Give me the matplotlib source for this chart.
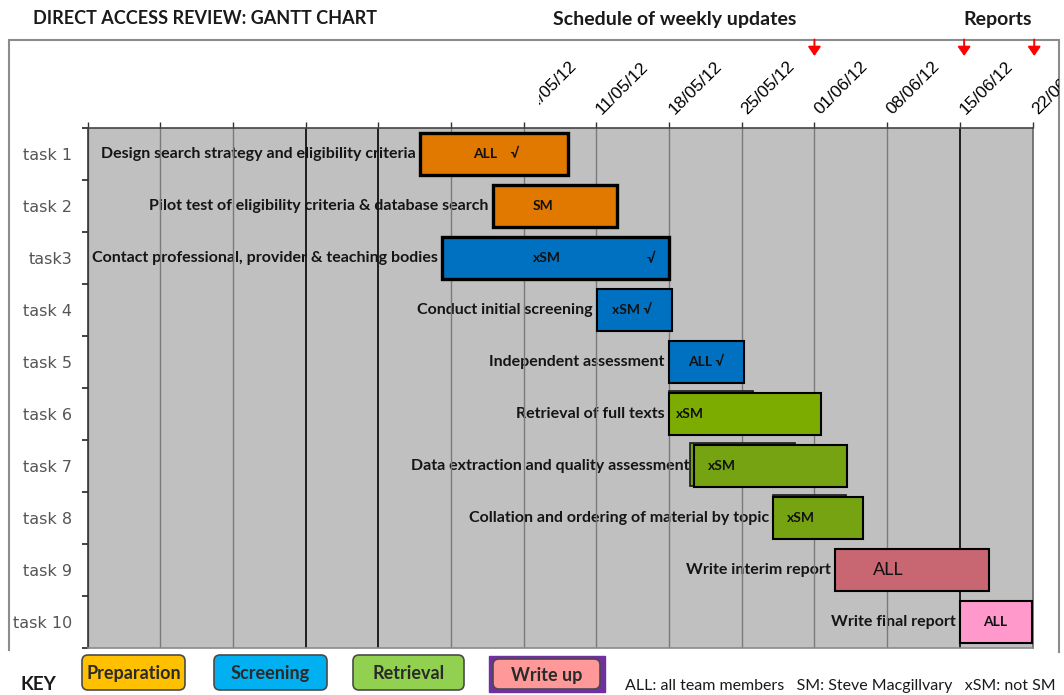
import matplotlib
matplotlib.use("Agg")
import matplotlib.pyplot as plt
import matplotlib.dates as mdates
import matplotlib.transforms as mtransforms
from matplotlib.patches import FancyBboxPatch, Rectangle
import pandas as pd

# ---------------- data ----------------
title = "DIRECT ACCESS REVIEW: GANTT CHART"
header_updates = "Schedule of weekly updates"
header_reports = "Reports"

tasks = ["task 1", "task 2", "task3", "task 4", "task 5",
         "task 6", "task 7", "task 8", "task 9", "task 10"]
descriptions = [
    "Design search strategy and eligibility criteria",
    "Pilot test of eligibility criteria & database search",
    "Contact professional, provider & teaching bodies",
    "Conduct initial screening",
    "Independent assessment",
    "Retrieval of full texts",
    "Data extraction and quality assessment",
    "Collation and ordering of material by topic",
    "Write interim report",
    "Write final report",
]
starts = ["2012-04-24 00:00", "2012-05-01 00:00", "2012-04-26 03:00",
          "2012-05-11 02:00", "2012-05-18 00:00", "2012-05-18 00:00",
          "2012-05-20 09:00", "2012-05-28 00:00", "2012-06-03 00:00",
          "2012-06-15 00:00"]
durations = [14.3, 12.0, 21.9, 7.2, 7.2, 14.6, 14.8, 8.7, 14.8, 7.0]
phases = ["Preparation", "Preparation", "Screening", "Screening", "Screening",
          "Retrieval", "Retrieval", "Retrieval", "Write up", "Write up"]
bar_colors = ["#E17800", "#E17800", "#0070C0", "#0070C0", "#0070C0",
              "#7DAC00", "#76A312", "#76A312", "#C86672", "#FF99CC"]
who = ["ALL    \u221a", "SM", "xSM", "xSM \u221a", "ALL \u221a",
       "xSM", "xSM", "xSM", "ALL", "ALL"]

# earlier (superseded) bars visible behind some tasks
ghost_rows = [5, 6, 7]
ghost_starts = ["2012-05-18 00:00", "2012-05-20 00:00", "2012-05-28 00:00"]
ghost_durations = [8.1, 10.1, 7.0]

axis_start = "2012-03-23"
axis_end = "2012-06-22"
week_dates = pd.date_range(axis_start, axis_end, freq="7D")
labelled_from = "2012-05-04"
dark_weeks = ["2012-04-13", "2012-04-20", "2012-06-15"]
arrow_dates = ["2012-06-01 00:00", "2012-06-15 10:00", "2012-06-22 04:00"]

key_labels = ["Preparation", "Screening", "Retrieval", "Write up"]
key_colors = ["#FFC000", "#00B0F0", "#92D050", "#FF9999"]
key_note = "ALL: all team members   SM: Steve Macgillvary   xSM: not SM"

# ---------------- style / layout ----------------
W, H = 1064, 695
DPI = 100
CAL = ["Lato", "DejaVu Sans"]
edge_widths = [2.4, 2.4, 2.4, 1.5, 1.5, 1.5, 1.5, 1.5, 1.5, 1.5]
# in-bar label offsets (pixels from bar start), font sizes
who_offsets = [53, 40, 91, 15, 19, 7, 14, 14, 38, 23]
who_sizes = [10, 10, 10, 10, 10, 10, 10, 10, 13, 10]

fig = plt.figure(figsize=(W / DPI, H / DPI), dpi=DPI)
fig.patch.set_facecolor("white")

# pixel overlay for frame, headers and key
ov = fig.add_axes([0, 0, 1, 1], zorder=0)
ov.set_xlim(0, W)
ov.set_ylim(H, 0)
ov.axis("off")

L, R, T, B = 87.5, 1032.5, 128, 648
ax = fig.add_axes([L / W, 1 - B / H, (R - L) / W, (B - T) / H], zorder=2)
ax.set_facecolor("#C0C0C0")

x0 = mdates.date2num(pd.Timestamp(axis_start))
x1 = mdates.date2num(pd.Timestamp(axis_end))
ax.set_xlim(x0, x1)
ax.set_ylim(len(tasks), 0)

# gridlines
dark_set = set(pd.to_datetime(dark_weeks))
for d in week_dates:
    dark = d in dark_set
    ax.axvline(mdates.date2num(d), color="#111111" if dark else "#7A7A7A",
               lw=1.3 if dark else 1.0, zorder=2)

# ticks
ax.xaxis.tick_top()
ax.set_xticks([mdates.date2num(d) for d in week_dates])
ax.tick_params(axis="x", which="major", length=4.5, width=1.0, color="#333333",
               labelsize=0, labeltop=False, labelbottom=False)
ax.set_yticks(range(len(tasks) + 1))
ax.set_yticklabels([])
ax.set_yticks([i + 0.5 for i in range(len(tasks))], minor=True)
ax.set_yticklabels(tasks, minor=True, fontsize=11.5, color="#555555",
                   family="DejaVu Sans")
ax.tick_params(axis="y", which="major", length=4, width=1.2, color="#222222")
ax.tick_params(axis="y", which="minor", length=0, pad=11)
for side, col, lw in [("top", "#444444", 1.2), ("left", "#333333", 1.2),
                      ("bottom", "#8A8A8A", 1.2), ("right", "#666666", 1.2)]:
    ax.spines[side].set_color(col)
    ax.spines[side].set_linewidth(lw)

# ghost bars (slightly higher, behind)
for r, s, dur in zip(ghost_rows, ghost_starts, ghost_durations):
    ax.barh(r + 0.5 - 0.03, dur, left=mdates.date2num(pd.Timestamp(s)),
            height=0.82, color=bar_colors[r], edgecolor="#1a1a1a",
            linewidth=1.2, zorder=2.5)

start_nums = [mdates.date2num(pd.Timestamp(s)) for s in starts]
ycent = [i + 0.5 for i in range(len(tasks))]
ax.barh(ycent, durations, left=start_nums, height=0.82, color=bar_colors,
        edgecolor="black", linewidth=edge_widths, zorder=3)

# descriptions left of bars
for y, s, txt in zip(ycent, start_nums, descriptions):
    ax.annotate(txt, xy=(s, y), xytext=(-3, 0), textcoords="offset points",
                ha="right", va="center", fontsize=11.5, fontweight="bold",
                family=CAL, color="#151515", zorder=1.5, annotation_clip=False)

# labels inside bars
for i, (y, s, txt) in enumerate(zip(ycent, start_nums, who)):
    ax.annotate(txt, xy=(s, y), xytext=(who_offsets[i] * 0.72, 0),
                textcoords="offset points", ha="left", va="center",
                fontsize=who_sizes[i],
                fontweight="bold" if who_sizes[i] < 12 else "normal",
                family=CAL, color="#111111", zorder=5)
# tick mark at the end of task 3
ax.annotate("\u221a", xy=(start_nums[2] + durations[2], ycent[2]),
            xytext=(-23 * 0.72, 0), textcoords="offset points", ha="left",
            va="center", fontsize=10, fontweight="bold", family=CAL,
            color="#111111", zorder=5)

# date labels (rotated) above the chart
clip = mtransforms.TransformedBbox(
    mtransforms.Bbox([[539 / W, 0], [1059 / W, 1]]), fig.transFigure)
for d in week_dates:
    if d < pd.Timestamp(labelled_from):
        continue
    t = ax.annotate(d.strftime("%d/%m/%y"), xy=(mdates.date2num(d), 1),
                    xycoords=("data", "axes fraction"), xytext=(4, 9.5),
                    textcoords="offset points", rotation=45,
                    rotation_mode="anchor", ha="left", va="baseline",
                    fontsize=12.5, family="Liberation Sans", color="#000000",
                    annotation_clip=False)
    t.set_clip_on(True)
    t.set_clip_box(clip)

# red arrows (weekly update / report points)
btr = mtransforms.blended_transform_factory(ax.transData, ov.transData)
for d in arrow_dates:
    xd = mdates.date2num(pd.Timestamp(d))
    ax.annotate("", xy=(xd, 56), xycoords=btr, xytext=(xd, 39.5),
                textcoords=btr, annotation_clip=False,
                arrowprops=dict(arrowstyle="-|>,head_length=0.55,head_width=0.38",
                                color="#FF0000", lw=1.4, shrinkA=0, shrinkB=0))

# outer frame
ov.plot([9, 9, 1059, 1059], [650, 39.5, 39.5, 652], color="#8C8C8C", lw=1.5,
        solid_joinstyle="miter")

# headers
ov.text(33, 19, title, ha="left", va="center", fontsize=13,
        fontweight="bold", family=CAL, color="#1a1a1a")
ov.text(553, 19, header_updates, ha="left", va="center", fontsize=14,
        fontweight="bold", family=CAL, color="#1a1a1a")
ov.text(963, 19, header_reports, ha="left", va="center", fontsize=14,
        fontweight="bold", family=CAL, color="#1a1a1a")

# key
ov.text(20, 685, "KEY", ha="left", va="center", fontsize=13.5,
        fontweight="bold", family=CAL, color="#1a1a1a")
key_x = [(82, 185), (214, 327), (353, 464), (493, 600)]
for (xa, xb), lab, col in zip(key_x, key_labels, key_colors):
    if lab == "Write up":
        ov.add_patch(Rectangle((488.5, 655.5), 116, 36, facecolor="#7030A0",
                               edgecolor="#7030A0", lw=1))
        ya, yb = 659, 689
    else:
        ya, yb = 655, 690
    ov.add_patch(FancyBboxPatch((xa + 1.5, ya + 1.5), xb - xa - 3, yb - ya - 3,
                                boxstyle="round,pad=1.5,rounding_size=6",
                                facecolor=col, edgecolor="#4a4a4a", lw=1.2))
    ov.text((xa + xb) / 2, (ya + yb) / 2 + 1, lab, ha="center", va="center",
            fontsize=13, fontweight="bold", family=CAL, color="#2a2a2a")

ov.text(625, 686, key_note, ha="left", va="center", fontsize=11.5,
        family=CAL, color="#1a1a1a")

fig.savefig("out.png", dpi=DPI, facecolor="white")
